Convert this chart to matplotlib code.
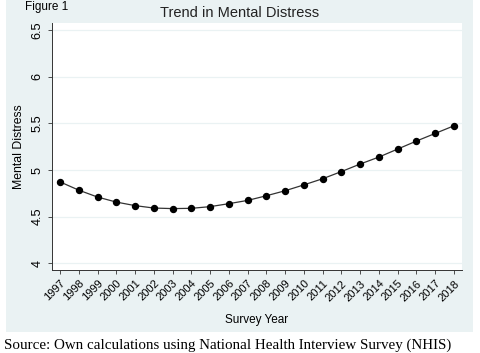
import matplotlib
matplotlib.use('Agg')
import matplotlib.pyplot as plt
from matplotlib.patches import Rectangle
import numpy as np

plt.rcParams['font.family'] = 'Liberation Sans'

years = np.arange(1997, 2019)
distress = [4.872, 4.783, 4.709, 4.655, 4.617, 4.591, 4.585, 4.588, 4.606, 4.638, 4.673,
            4.723, 4.777, 4.840, 4.906, 4.983, 5.064, 5.139, 5.225, 5.311, 5.393, 5.475]
yticks = [4, 4.5, 5, 5.5, 6, 6.5]
ytick_labels = ['4', '4.5', '5', '5.5', '6', '6.5']

W, H = 480, 353
bg = '#eaf2f3'

fig = plt.figure(figsize=(4.8, 3.53), dpi=100)
fig.patch.set_facecolor('white')
# stata style graph region
fig.add_artist(Rectangle((6 / W, 1 - 332 / H), 467 / W, 332 / H, transform=fig.transFigure,
                         facecolor=bg, edgecolor='none', zorder=-5))

ax = fig.add_axes([52 / W, 1 - 270 / H, 410 / W, 247 / H])
ax.set_facecolor('white')
ax.plot(years, distress, '-', color='#333333', linewidth=0.9, zorder=3)
ax.plot(years, distress, 'o', color='black', markersize=4.3, zorder=4)

ax.set_xlim(1996.57, 2018.43)
ax.set_ylim(3.925, 6.58)
ax.set_yticks(yticks)
ax.set_yticklabels(ytick_labels, rotation=90, va='center', fontsize=9.2)
ax.set_xticks(years)
ax.set_xticklabels([str(y) for y in years], rotation=45, ha='right', rotation_mode='anchor', fontsize=8)
ax.tick_params(axis='both', length=3, width=0.6, color='#333333', pad=3)
ax.grid(axis='y', color=bg, linewidth=0.9)
ax.set_axisbelow(True)
for s in ['top', 'right']:
    ax.spines[s].set_visible(False)
for s in ['left', 'bottom']:
    ax.spines[s].set_color('#333333')
    ax.spines[s].set_linewidth(0.7)

ax.set_ylabel('Mental Distress', fontsize=8.8, labelpad=5)
ax.set_xlabel('Survey Year', fontsize=8.5, labelpad=8)

fig.text(240 / W, 1 - 13 / H, 'Trend in Mental Distress', ha='center', va='center', fontsize=10.5, color='#222222')
fig.text(25 / W, 1 - 1 / H, 'Figure 1', ha='left', va='top', fontsize=8.5)
fig.text(4 / W, 1 - 345 / H, 'Source: Own calculations using National Health Interview Survey (NHIS)',
         ha='left', va='center', fontsize=10.8, family='Liberation Serif')

fig.savefig('out.png', dpi=100)
